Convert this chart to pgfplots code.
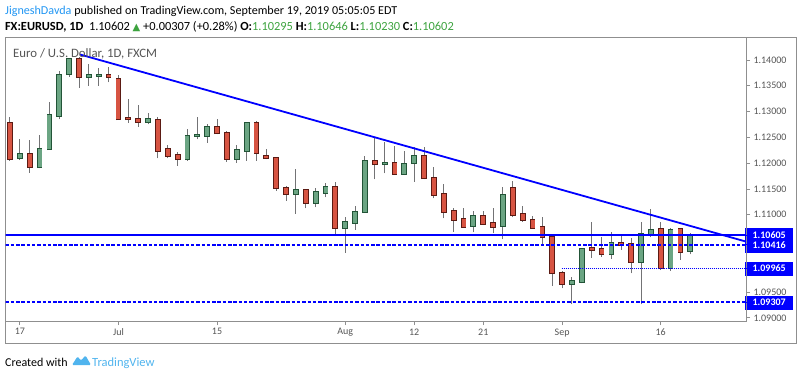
\documentclass[border=0pt]{standalone}
\usepackage{pgfplots}
\pgfplotsset{compat=1.18}
\usepackage{pgfplotstable}
\usepackage{fontspec}
\setmainfont{Carlito}
\newfontfamily\symfont{DejaVu Sans}
\definecolor{upfill}{HTML}{6BA583}
\definecolor{upborder}{HTML}{225437}
\definecolor{dnfill}{HTML}{D75442}
\definecolor{dnborder}{HTML}{5B1A13}
\definecolor{wick}{HTML}{737375}
\definecolor{tvblue}{HTML}{0000FF}
\definecolor{framegray}{HTML}{8F8F8F}
\definecolor{txtgray}{HTML}{555555}
\definecolor{author}{HTML}{2196F3}
\definecolor{valgreen}{HTML}{3DA33F}
\definecolor{tvlogo}{HTML}{50B4EE}

% rising candles (close >= open)
\pgfplotstableread{
i o h l c
1 1.12094 1.12474 1.12061 1.12183
3 1.11919 1.12551 1.11900 1.12268
4 1.12268 1.13186 1.12255 1.12928
5 1.12920 1.13793 1.12850 1.13709
6 1.13723 1.14039 1.13676 1.14014
8 1.13676 1.13922 1.13496 1.13709
9 1.13690 1.13839 1.13496 1.13703
14 1.12792 1.12966 1.12753 1.12850
18 1.12074 1.12656 1.12042 1.12526
19 1.12520 1.12889 1.12462 1.12546
20 1.12532 1.12759 1.12396 1.12707
23 1.12086 1.12352 1.12009 1.12255
24 1.12241 1.12804 1.12047 1.12773
29 1.11402 1.11881 1.11014 1.11479
31 1.11233 1.11512 1.11144 1.11446
32 1.11427 1.11621 1.11338 1.11543
34 1.10737 1.10961 1.10263 1.10853
35 1.10845 1.11169 1.10704 1.11053
36 1.11058 1.12144 1.11039 1.12036
38 1.11978 1.12416 1.11803 1.12009
40 1.11789 1.12235 1.11770 1.11978
41 1.11997 1.12319 1.11640 1.12139
47 1.10781 1.11072 1.10659 1.10981
50 1.10781 1.11543 1.10523 1.11382
57 1.09656 1.09786 1.09260 1.09715
58 1.09701 1.10360 1.09670 1.10335
61 1.10232 1.10671 1.10141 1.10457
64 1.10077 1.10864 1.09260 1.10620
65 1.10620 1.11105 1.10562 1.10709
67 1.09973 1.10737 1.09914 1.10709
69 1.10295 1.10646 1.10230 1.10602
}\up

% falling candles (close < open)
\pgfplotstableread{
i o h l c
0 1.12773 1.12901 1.12042 1.12074
2 1.12177 1.12449 1.11815 1.11925
7 1.14014 1.14058 1.13463 1.13665
10 1.13709 1.13870 1.13568 1.13676
11 1.13626 1.13715 1.12837 1.12850
12 1.12870 1.13238 1.12784 1.12850
13 1.12850 1.13127 1.12707 1.12792
15 1.12842 1.12889 1.12094 1.12241
16 1.12268 1.12352 1.12094 1.12144
17 1.12152 1.12210 1.11945 1.12074
21 1.12707 1.12850 1.12559 1.12579
22 1.12590 1.12629 1.12028 1.12080
25 1.12773 1.12823 1.12042 1.12197
26 1.12133 1.12268 1.12074 1.12094
27 1.12094 1.12113 1.11466 1.11512
28 1.11524 1.11557 1.11272 1.11402
30 1.11479 1.11493 1.11124 1.11233
33 1.11543 1.11640 1.10607 1.10737
37 1.12036 1.12482 1.11687 1.11978
39 1.11997 1.12338 1.11770 1.11789
42 1.12139 1.12319 1.11687 1.11706
43 1.11706 1.11919 1.11318 1.11382
44 1.11396 1.11590 1.10930 1.11058
45 1.11072 1.11124 1.10671 1.10897
46 1.10911 1.11136 1.10752 1.10768
48 1.10981 1.11072 1.10800 1.10820
49 1.10833 1.11124 1.10640 1.10768
51 1.11512 1.11654 1.10950 1.10994
52 1.11008 1.11169 1.10864 1.10897
53 1.10897 1.10975 1.10737 1.10748
54 1.10756 1.10950 1.10413 1.10562
55 1.10562 1.10587 1.09618 1.09864
56 1.09876 1.09914 1.09573 1.09656
59 1.10349 1.10853 1.10166 1.10322
60 1.10335 1.10562 1.10186 1.10232
62 1.10457 1.10607 1.10316 1.10413
63 1.10426 1.10554 1.09864 1.10077
66 1.10723 1.10864 1.09928 1.09973
68 1.10717 1.10737 1.10122 1.10283
}\down

\pgfplotsset{
  ebar/.style={draw=none, mark=none, forget plot,
    error bars/.cd, y dir=plus, y explicit, error mark=none,
    error bar style={#1}},
}

\begin{document}
\begin{tikzpicture}[x=1pt,y=1pt]
\path[use as bounding box] (0,0) rectangle (800,376);
% header
\node[anchor=base west, inner sep=0pt, font=\fontsize{12.1}{14}\selectfont] at (5,361.5)
  {\textcolor{author}{JigneshDavda} published on TradingView.com, September 19, 2019 05:05:05 EDT};
\node[anchor=base west, inner sep=0pt, font=\fontsize{12.4}{14}\selectfont] at (5,345.5)
  {\textbf{FX:EURUSD, 1D}\ \ 1.10602 {\symfont\fontsize{10}{12}\selectfont\textcolor{valgreen}{▲}} +0.00307 (+0.28\%) \textbf{O:}\textcolor{valgreen}{1.10295} \textbf{H:}\textcolor{valgreen}{1.10646} \textbf{L:}\textcolor{valgreen}{1.10230} \textbf{C:}\textcolor{valgreen}{1.10602}};
% chart frame
\draw[framegray, line width=0.8pt] (5.5,33) rectangle (796,339);
% price-label backdrops on the price scale
\fill[tvblue] (745,123) rectangle (793,148);
\fill[tvblue] (745,100) rectangle (793,114);
\fill[tvblue] (745,66.5) rectangle (793,80.5);
\begin{axis}[
  at={(5.5pt,55pt)}, anchor=south west,
  scale only axis, width=740.5pt, height=284pt,
  xmin=-0.456, xmax=74.65,
  ymin=1.08939, ymax=1.14446,
  axis line style={draw=framegray, line width=0.8pt},
  xtick={1,11,21,34,41,48,56,66},
  xticklabels={17,Jul,15,Aug,12,21,Sep,16},
  ytick={1.09,1.095,1.11,1.115,1.12,1.125,1.13,1.135,1.14},
  yticklabels={1.09000,1.09500,1.11000,1.11500,1.12000,1.12500,1.13000,1.13500,1.14000},
  xtick pos=bottom, ytick pos=right, yticklabel pos=right,
  tick align=outside, major tick length=4pt,
  tick style={draw=framegray, line width=0.8pt},
  ticklabel style={font=\fontsize{10}{12}\selectfont, text=txtgray},
  /pgf/number format/assume math mode=true,
  extra y ticks={1.10605,1.10416,1.09965,1.09307},
  extra y tick labels={1.10605,1.10416,1.09965,1.09307},
  extra y tick style={tick style={draw=tvblue},
    yticklabel style={text=white, font=\bfseries\fontsize{10}{12}\selectfont,
      minimum width=48pt, inner sep=0pt, anchor=west, xshift=-5pt}},
]
% wicks
\addplot[ebar={draw=wick, line width=1pt}] table[x=i, y=l, y error plus expr=\thisrow{h}-\thisrow{l}] {\up};
\addplot[ebar={draw=wick, line width=1pt}] table[x=i, y=l, y error plus expr=\thisrow{h}-\thisrow{l}] {\down};
% bodies: border then fill
\addplot[ebar={draw=upborder, line width=5.8pt, shorten <=-0.9pt, shorten >=-0.9pt}] table[x=i, y=o, y error plus expr=\thisrow{c}-\thisrow{o}] {\up};
\addplot[ebar={draw=upfill, line width=4pt}] table[x=i, y=o, y error plus expr=\thisrow{c}-\thisrow{o}] {\up};
\addplot[ebar={draw=dnborder, line width=5.8pt, shorten <=-0.9pt, shorten >=-0.9pt}] table[x=i, y=c, y error plus expr=\thisrow{o}-\thisrow{c}] {\down};
\addplot[ebar={draw=dnfill, line width=4pt}] table[x=i, y=c, y error plus expr=\thisrow{o}-\thisrow{c}] {\down};
% drawings
\addplot[tvblue, line width=2.2pt] coordinates {(-1,1.10605) (80,1.10605)};
\addplot[tvblue, line width=1.8pt, dash pattern=on 3.5pt off 1.8pt] coordinates {(-1,1.10416) (80,1.10416)};
\addplot[tvblue, line width=1pt, dash pattern=on 1pt off 1pt] coordinates {(55.95,1.09965) (80,1.09965)};
\addplot[tvblue, line width=1.8pt, dash pattern=on 3.5pt off 1.8pt] coordinates {(-1,1.09307) (80,1.09307)};
\addplot[tvblue, line width=1.8pt] coordinates {(7.1,1.14107) (74.65,1.10479)};
\end{axis}
% title inside chart
\node[anchor=base west, inner sep=0pt, font=\fontsize{12.8}{14}\selectfont, text=txtgray] at (13,319) {Euro / U.S. Dollar, 1D, FXCM};
% footer
\node[anchor=base west, inner sep=0pt, font=\fontsize{12}{14}\selectfont] at (5,10) {Created with};
\fill[tvlogo, rounded corners=1.2pt] (72,11) -- (77.5,19.5) -- (81,15.5) -- (85.5,20.5) -- (91,11) -- cycle;
\node[anchor=base west, inner sep=0pt, font=\fontsize{12.5}{14}\selectfont, text=tvlogo] at (92,10) {TradingView};
\end{tikzpicture}
\end{document}
